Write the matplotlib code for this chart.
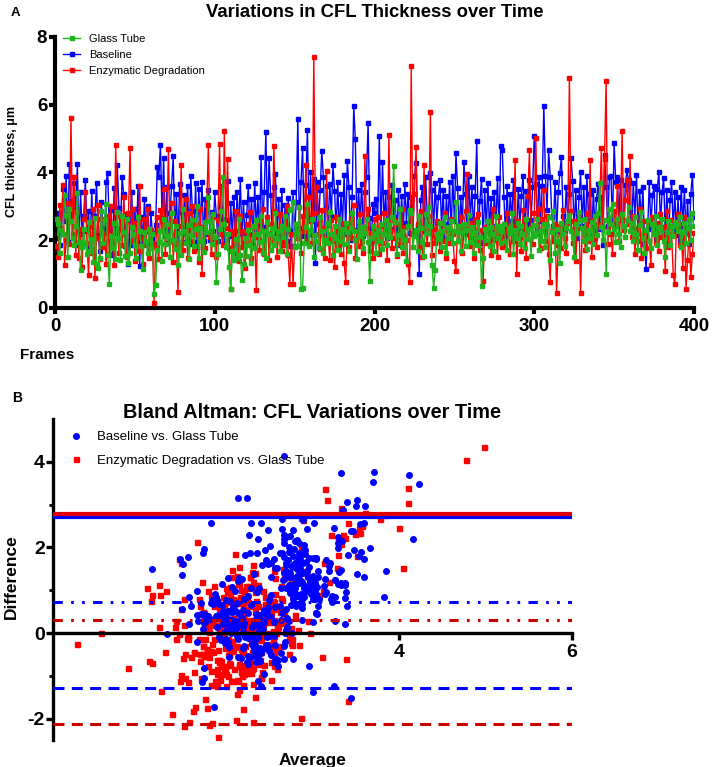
import numpy as np
import matplotlib
matplotlib.use('Agg')
import matplotlib.pyplot as plt

plt.rcParams['font.family'] = ['Liberation Sans', 'DejaVu Sans']
plt.rcParams['lines.scale_dashes'] = False
plt.rcParams['axes.unicode_minus'] = False

# CFL thickness (um) per frame
glass_tube = [
    2.62, 2.48, 1.63, 2.31, 2.17, 3.35, 2.74, 1.52, 2.93, 2.58, 2.06, 1.87, 2.41, 3.40, 1.96, 1.12, 1.79, 2.34, 1.91, 1.58,
    2.53, 1.68, 2.04, 1.37, 2.66, 1.29, 1.18, 1.47, 2.87, 1.93, 2.61, 3.08, 1.57, 0.70, 2.12, 1.76, 2.52, 1.46, 2.83, 2.07,
    1.41, 2.72, 2.23, 1.54, 2.64, 1.33, 1.61, 2.38, 2.19, 1.86, 1.48, 2.69, 2.27, 1.82, 1.16, 2.24, 1.98, 1.63, 2.32, 1.77,
    2.18, 0.40, 0.67, 1.72, 1.94, 2.28, 1.38, 2.63, 1.89, 2.47, 2.13, 1.51, 2.81, 2.02, 1.74, 2.43, 1.27, 2.21, 1.56, 2.91,
    2.27, 1.92, 2.44, 1.46, 2.16, 2.59, 1.83, 2.34, 3.02, 1.49, 2.37, 1.97, 1.66, 2.54, 2.23, 3.28, 2.57, 1.88, 2.78, 2.09,
    0.76, 1.58, 2.32, 2.86, 3.86, 2.47, 1.81, 2.19, 1.21, 0.55, 1.69, 1.42, 2.03, 1.48, 2.62, 1.57, 0.82, 1.31, 2.08, 1.53,
    2.29, 1.86, 1.34, 2.42, 1.78, 2.61, 2.17, 1.96, 2.73, 1.62, 2.26, 1.47, 2.53, 2.18, 1.71, 2.36, 1.87, 2.79, 2.04, 2.27,
    1.68, 2.41, 2.11, 2.72, 1.59, 2.33, 2.88, 2.93, 3.12, 1.79, 2.49, 1.83, 2.97, 0.56, 0.60, 1.91, 2.38, 3.07, 1.82, 2.31,
    2.63, 1.52, 2.16, 1.98, 1.77, 2.68, 2.26, 1.61, 2.01, 2.52, 1.93, 2.84, 2.19, 1.57, 2.43, 2.06, 1.72, 2.64, 1.97, 2.33,
    1.88, 2.51, 2.24, 1.69, 2.37, 2.81, 2.27, 2.02, 1.46, 2.58, 2.12, 2.39, 1.76, 2.21, 2.63, 1.94, 0.80, 2.07, 2.42, 2.18,
    1.62, 2.29, 1.97, 2.48, 1.73, 2.18, 2.61, 1.86, 2.44, 2.09, 2.68, 4.20, 2.53, 1.59, 2.16, 2.92, 1.81, 2.27, 2.01, 1.38,
    2.43, 2.89, 2.81, 1.79, 2.13, 2.31, 1.68, 2.73, 2.37, 1.99, 1.53, 2.77, 2.22, 2.98, 2.41, 1.28, 0.60, 1.12, 2.19, 2.04,
    2.51, 1.79, 2.28, 2.69, 1.61, 2.38, 2.08, 2.57, 1.92, 2.27, 3.13, 1.99, 2.42, 1.67, 2.23, 2.49, 1.83, 2.31, 2.76, 1.96,
    2.38, 1.63, 2.24, 1.87, 2.54, 2.11, 0.66, 1.49, 2.32, 2.01, 2.58, 1.82, 2.39, 2.17, 1.69, 2.71, 2.08, 2.43, 1.91, 2.27,
    2.48, 1.97, 1.71, 2.36, 2.22, 2.79, 1.58, 2.29, 2.06, 2.52, 1.88, 2.41, 2.17, 1.76, 2.62, 2.03, 2.34, 1.54, 2.44, 2.12,
    2.21, 2.63, 1.72, 2.28, 1.98, 2.49, 1.79, 2.41, 2.68, 1.43, 2.24, 2.87, 1.62, 2.33, 1.97, 1.32, 2.51, 2.18, 1.83, 2.37,
    2.58, 2.75, 2.27, 2.09, 1.51, 2.47, 2.21, 2.83, 2.60, 2.36, 1.98, 2.62, 1.73, 2.31, 2.07, 2.53, 1.89, 2.71, 2.16, 2.79,
    3.69, 2.38, 2.02, 2.61, 1.00, 2.23, 2.91, 2.47, 3.08, 2.32, 1.96, 2.64, 2.18, 1.81, 2.77, 2.42, 2.09, 2.59, 2.97, 2.26,
    2.52, 1.98, 2.69, 2.17, 1.71, 2.44, 2.82, 2.08, 1.63, 2.29, 2.61, 1.97, 1.78, 2.48, 2.19, 2.72, 1.87, 2.38, 2.27, 2.63,
    1.99, 1.52, 2.23, 2.58, 1.86, 2.41, 2.13, 2.53, 2.46, 2.28, 2.68, 1.79, 2.24, 2.51, 1.92, 2.37, 2.62, 2.02, 2.81, 2.43,
]
baseline = [
    2.08, 2.79, 1.86, 2.27, 3.52, 2.58, 3.91, 1.96, 4.25, 3.17, 2.06, 3.68, 2.97, 4.25, 1.87, 3.42, 2.18, 2.71, 3.78, 2.26,
    2.87, 1.78, 3.44, 2.06, 2.73, 3.69, 2.16, 1.67, 3.13, 2.37, 1.91, 3.72, 3.98, 2.31, 2.88, 1.56, 3.53, 2.22, 4.21, 2.96,
    2.33, 3.87, 3.36, 1.82, 2.77, 1.31, 2.59, 3.43, 1.87, 2.91, 2.18, 3.61, 1.23, 2.68, 1.99, 3.23, 2.27, 3.02, 1.76, 2.81,
    2.21, 1.89, 2.44, 4.15, 3.88, 4.82, 2.67, 4.44, 2.13, 3.58, 1.92, 2.79, 3.61, 4.48, 2.16, 3.37, 1.91, 3.67, 2.82, 1.96,
    3.33, 2.17, 3.61, 1.88, 3.91, 2.87, 1.96, 3.68, 1.78, 3.52, 2.39, 3.73, 1.98, 3.22, 2.19, 3.48, 2.01, 2.84, 2.27, 3.41,
    2.72, 1.97, 2.94, 3.59, 2.63, 1.88, 2.61, 3.74, 1.77, 3.11, 2.12, 3.29, 1.86, 3.42, 2.28, 3.81, 2.17, 3.13, 1.89, 2.74,
    3.61, 2.19, 3.22, 1.86, 3.68, 2.33, 3.28, 2.01, 4.45, 2.38, 3.43, 5.20, 2.47, 4.42, 3.34, 2.06, 3.57, 3.96, 2.22, 3.21,
    2.08, 3.49, 1.87, 3.03, 1.99, 3.26, 2.27, 1.82, 3.41, 2.18, 3.13, 5.59, 2.36, 3.72, 4.73, 2.13, 3.62, 5.26, 2.67, 4.01,
    2.17, 3.82, 1.34, 3.71, 2.48, 3.48, 4.64, 3.87, 2.21, 3.59, 2.46, 3.67, 2.73, 4.21, 3.46, 2.28, 3.73, 2.11, 3.37, 2.49,
    3.93, 2.18, 4.34, 3.57, 2.02, 3.28, 5.95, 4.98, 2.31, 3.49, 2.57, 3.66, 2.13, 3.42, 3.88, 5.47, 2.66, 1.93, 3.08, 2.79,
    3.21, 2.68, 5.07, 2.19, 4.31, 2.46, 3.41, 2.08, 3.27, 2.32, 3.63, 2.68, 3.18, 1.87, 3.49, 2.29, 3.32, 2.18, 3.67, 2.52,
    3.38, 2.21, 3.28, 2.17, 3.89, 4.29, 2.42, 1.00, 3.19, 3.57, 2.26, 3.88, 2.73, 2.22, 3.98, 3.47, 2.33, 3.69, 2.51, 3.27,
    3.77, 2.38, 3.48, 2.07, 3.32, 2.48, 3.71, 2.21, 3.89, 2.56, 4.58, 3.53, 2.28, 3.29, 2.37, 4.32, 3.36, 2.19, 3.91, 2.62,
    3.56, 2.28, 3.31, 4.93, 2.11, 3.17, 3.82, 1.93, 3.47, 2.36, 3.68, 2.31, 3.26, 2.09, 3.43, 2.42, 3.83, 2.17, 4.79, 4.66,
    3.28, 2.12, 3.59, 2.27, 3.38, 2.58, 3.77, 2.51, 2.16, 3.51, 2.37, 3.32, 3.91, 2.28, 3.46, 2.49, 3.78, 2.61, 3.56, 5.09,
    3.67, 2.33, 3.88, 2.57, 3.61, 5.97, 3.89, 2.88, 4.66, 3.87, 2.68, 2.41, 3.72, 2.26, 3.42, 3.98, 4.46, 2.71, 2.31, 3.58,
    2.52, 3.37, 4.42, 3.76, 2.29, 3.48, 2.06, 3.27, 4.02, 2.41, 3.58, 2.18, 3.91, 2.57, 3.38, 1.99, 3.49, 2.28, 3.22, 3.66,
    2.32, 3.27, 1.87, 4.51, 3.58, 2.41, 3.87, 3.91, 2.48, 4.88, 3.72, 3.88, 2.61, 3.77, 2.76, 2.33, 3.62, 4.07, 3.78, 2.87,
    2.43, 3.68, 2.68, 3.92, 2.22, 3.46, 2.51, 3.57, 1.89, 1.15, 2.32, 3.71, 2.38, 3.33, 3.59, 2.07, 3.51, 4.02, 2.46, 3.42,
    3.84, 2.19, 3.47, 1.91, 3.18, 3.72, 2.27, 3.43, 2.16, 3.27, 2.01, 3.56, 2.43, 3.48, 2.22, 3.17, 1.89, 3.37, 3.93, 2.68,
]
enzymatic = [
    1.83, 1.52, 3.04, 2.37, 3.63, 1.27, 2.02, 3.11, 1.88, 5.62, 2.19, 3.87, 1.57, 2.83, 1.48, 2.32, 1.21, 2.63, 3.41, 1.92,
    0.98, 2.43, 1.61, 2.92, 0.90, 2.08, 3.03, 1.45, 2.64, 1.79, 2.21, 1.31, 2.72, 1.58, 3.02, 1.97, 1.28, 4.82, 2.29, 1.63,
    2.71, 1.87, 3.28, 2.18, 1.52, 2.81, 4.72, 1.98, 2.91, 1.39, 2.52, 1.68, 3.61, 2.08, 1.29, 2.62, 1.86, 2.93, 1.47, 2.31,
    1.91, 0.15, 1.79, 2.69, 1.46, 2.88, 2.27, 3.52, 1.58, 2.41, 4.69, 1.97, 3.09, 1.37, 2.58, 1.88, 0.46, 2.42, 4.21, 1.72,
    2.28, 3.21, 1.49, 2.79, 1.98, 3.01, 1.69, 2.48, 2.17, 1.36, 2.92, 1.00, 2.38, 1.77, 3.04, 4.81, 2.09, 1.58, 2.68, 1.96,
    1.51, 2.59, 4.83, 2.18, 1.87, 5.23, 2.37, 4.41, 1.76, 0.55, 2.27, 1.61, 2.87, 1.98, 1.38, 2.71, 1.79, 2.28, 1.17, 2.49,
    1.88, 2.82, 1.47, 2.38, 2.11, 0.54, 2.57, 1.71, 2.31, 2.93, 1.58, 2.21, 2.68, 1.41, 2.47, 1.98, 4.78, 2.87, 1.52, 2.27,
    2.78, 1.68, 2.42, 1.87, 3.02, 1.56, 0.72, 2.17, 0.70, 1.82, 2.47, 2.08, 2.97, 1.61, 2.73, 2.26, 4.21, 1.97, 3.28, 2.57,
    1.93, 7.40, 2.81, 3.57, 2.19, 1.73, 2.88, 2.36, 1.48, 4.05, 2.07, 1.42, 2.61, 1.97, 1.22, 2.68, 1.87, 2.31, 1.59, 2.52,
    1.32, 0.78, 2.38, 1.81, 2.62, 2.06, 3.03, 1.49, 2.27, 1.83, 2.78, 1.97, 1.62, 4.49, 2.37, 2.91, 1.68, 2.21, 1.47, 2.63,
    1.97, 2.68, 1.58, 2.42, 1.91, 2.79, 2.18, 1.41, 5.11, 2.28, 1.77, 2.61, 2.08, 1.53, 2.47, 1.89, 2.92, 1.62, 2.38, 2.02,
    1.31, 0.78, 7.15, 2.21, 3.38, 4.76, 2.48, 1.79, 2.87, 1.51, 4.21, 2.37, 1.88, 2.71, 5.79, 1.57, 2.32, 1.91, 2.58, 2.12,
    1.68, 2.52, 1.97, 2.81, 1.49, 2.28, 1.91, 2.62, 2.17, 1.38, 1.10, 2.41, 1.98, 2.68, 1.61, 2.32, 2.87, 3.95, 1.82, 2.51,
    2.07, 1.48, 2.63, 1.97, 2.78, 1.71, 2.29, 0.80, 2.38, 1.92, 2.58, 2.18, 1.57, 2.91, 2.01, 2.37, 1.52, 2.69, 2.08, 1.79,
    2.48, 1.87, 2.81, 2.22, 1.58, 2.41, 1.98, 4.36, 1.00, 2.57, 2.11, 1.67, 2.88, 2.28, 1.49, 3.31, 4.65, 2.38, 1.88, 2.79,
    5.01, 2.18, 2.91, 1.77, 2.62, 3.48, 1.98, 2.71, 1.58, 0.78, 2.27, 1.97, 2.48, 0.43, 1.87, 2.41, 1.78, 2.88, 2.07, 1.61,
    2.52, 6.79, 2.87, 1.91, 2.58, 1.38, 2.31, 2.69, 0.43, 2.37, 2.18, 1.72, 2.79, 1.98, 4.36, 1.52, 2.61, 2.07, 1.81, 2.48,
    3.09, 4.71, 2.38, 4.41, 6.70, 1.88, 2.62, 2.17, 1.59, 2.87, 2.42, 3.61, 1.97, 2.68, 5.23, 2.29, 3.18, 3.79, 2.48, 4.49,
    2.11, 2.72, 1.58, 2.37, 1.98, 2.91, 1.49, 2.58, 2.21, 1.78, 2.47, 1.99, 1.28, 2.69, 2.27, 1.91, 2.52, 1.68, 2.78, 2.09,
    2.38, 1.08, 2.87, 1.79, 2.61, 2.17, 0.98, 0.70, 2.41, 2.77, 1.87, 2.48, 1.18, 2.68, 0.57, 1.42, 2.31, 0.91, 1.59, 2.21,
]
frames = np.arange(1, len(glass_tube) + 1)

# Bland Altman bands: lower limit, bias, upper limit
ba_baseline_limits = [-1.29, 0.73, 2.72]
ba_enzymatic_limits = [-2.13, 0.30, 2.79]

green = '#1db41d'
blue = '#0000ff'
red = '#ff0000'
dark_red = '#c80000'

fig = plt.figure(figsize=(7.14, 7.67), dpi=100)

# ---- panel A ----
ax1 = fig.add_axes([55/714, 1-308/767, 639/714, 271/767])
series = [(glass_tube, 'Glass Tube', green, 4),
          (baseline, 'Baseline', blue, 2),
          (enzymatic, 'Enzymatic Degradation', red, 3)]
for vals, name, c, z in series:
    ax1.plot(frames, vals, color=c, marker='s', markersize=3, linewidth=1,
             label=name, zorder=z)

ax1.set_xlim(0, 400)
ax1.set_ylim(0, 8)
ax1.set_xticks([0, 100, 200, 300, 400])
ax1.set_yticks([0, 2, 4, 6, 8])
for side in ['top', 'right']:
    ax1.spines[side].set_visible(False)
for side in ['left', 'bottom']:
    ax1.spines[side].set_linewidth(3)
ax1.tick_params(width=3, length=4, labelsize=13.5)
ax1.tick_params(axis='y', pad=1.5)
ax1.tick_params(axis='x', pad=3)
for lab in ax1.get_xticklabels() + ax1.get_yticklabels():
    lab.set_fontweight('bold')

ax1.set_ylabel('CFL thickness, μm', fontsize=9, fontweight='bold')
ax1.yaxis.set_label_coords(-0.058, 0.54)
ax1.set_xlabel('Frames', fontsize=11, fontweight='bold')
ax1.xaxis.set_label_coords(-0.013, -0.148)

ax1.legend(loc='upper left', bbox_to_anchor=(0.0125, 1.012), frameon=False,
           fontsize=8, handlelength=1.55, handletextpad=0.8, labelspacing=0.55,
           borderpad=0, borderaxespad=0)

fig.text(375/714, 1-17.3/767, 'Variations in CFL Thickness over Time',
         ha='center', va='baseline', fontsize=13.3, fontweight='bold')
fig.text(11/714, 1-16/767, 'A', ha='left', va='baseline', fontsize=9.5,
         fontweight='bold')

# ---- panel B ----
ax2 = fig.add_axes([53/714, 1-740/767, 519/714, 321/767])
b = np.array(baseline)
e = np.array(enzymatic)
g = np.array(glass_tube)

ax2.plot((e + g) / 2, e - g, 's', color=red, markersize=3.6, ls='none',
         label='Enzymatic Degradation vs. Glass Tube', zorder=2)
ax2.plot((b + g) / 2, b - g, 'o', color=blue, markersize=4, ls='none',
         label='Baseline vs. Glass Tube', zorder=3)

dashdotdot = (0, (6.7, 6.0, 1.9, 6.0, 1.9, 6.0))
dashed = (0, (7.9, 5.3))
for lims, c_solid, c_band in [(ba_baseline_limits, blue, blue),
                              (ba_enzymatic_limits, '#e00000', dark_red)]:
    ax2.plot([0, 6], [lims[0]] * 2, color=c_band, lw=2.2, linestyle=dashed,
             dash_capstyle='butt', zorder=4)
    ax2.plot([0, 6], [lims[1]] * 2, color=c_band, lw=2.2, linestyle=dashdotdot,
             dash_capstyle='butt', zorder=4)
    ax2.plot([0, 6], [lims[2]] * 2, color=c_solid, lw=3, zorder=4)

ax2.set_xlim(0, 6)
ax2.set_ylim(-2.5, 5)
ax2.spines['top'].set_visible(False)
ax2.spines['right'].set_visible(False)
ax2.spines['bottom'].set_position(('data', 0))
ax2.spines['bottom'].set_zorder(5)
ax2.spines['left'].set_linewidth(2.4)
ax2.spines['bottom'].set_linewidth(2.4)
ax2.set_xticks([4, 6])
ax2.set_yticks([-2, 0, 2, 4])
ax2.set_yticks([-1, 1, 3], minor=True)
ax2.tick_params(width=2.4, length=5, labelsize=14)
ax2.tick_params(axis='y', pad=1)
ax2.tick_params(axis='x', pad=3)
ax2.tick_params(which='minor', width=2, length=3)
for lab in ax2.get_xticklabels() + ax2.get_yticklabels():
    lab.set_fontweight('bold')

ax2.set_ylabel('Difference', fontsize=12.5, fontweight='bold')
ax2.yaxis.set_label_coords(-0.066, 0.508)
ax2.set_xlabel('Average', fontsize=12.5, fontweight='bold')
ax2.xaxis.set_label_coords(0.5, -0.04)

handles, labels = ax2.get_legend_handles_labels()
ax2.legend(handles[::-1], labels[::-1], loc='upper left',
           bbox_to_anchor=(0.0316, 0.962), frameon=False, fontsize=9.5,
           handlelength=1, handletextpad=1.1, labelspacing=0.85,
           borderpad=0, borderaxespad=0, numpoints=1)

fig.text(312/714, 1-417.7/767, 'Bland Altman: CFL Variations over Time',
         ha='center', va='baseline', fontsize=14.3, fontweight='bold')
fig.text(12/714, 1-402/767, 'B', ha='left', va='baseline', fontsize=10,
         fontweight='bold')

fig.savefig('out.png', dpi=100)
